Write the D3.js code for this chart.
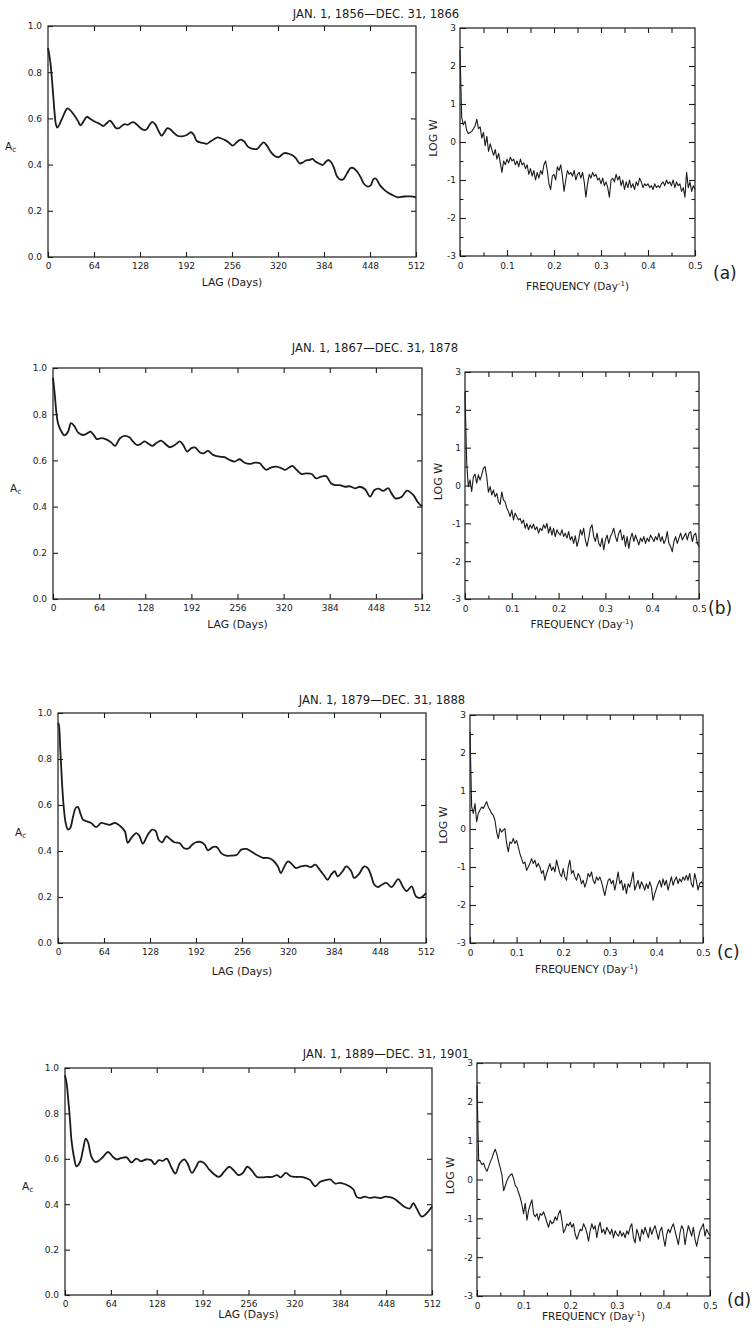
<!DOCTYPE html>
<html>
<head>
<meta charset="utf-8">
<style>
  body { margin: 0; background: #fff; }
  svg { display: block; font-family: "DejaVu Sans", "Liberation Sans", sans-serif; }
</style>
</head>
<body>
<svg width="752" height="1332"></svg>
<script src="https://cdn.jsdelivr.net/npm/d3@7"></script>
<script>
// ---- data ----
const lagTicks = [0, 64, 128, 192, 256, 320, 384, 448, 512];
const acTicks = [0, 0.2, 0.4, 0.6, 0.8, 1.0];
const freqTicks = [0, 0.1, 0.2, 0.3, 0.4, 0.5];
const freqMinor = [0.05, 0.15, 0.25, 0.35, 0.45];
const logTicks = [-3, -2, -1, 0, 1, 2, 3];
const logMinor = [-2.5, -1.5, -0.5, 0.5, 1.5, 2.5];

const periods = [
  "JAN. 1, 1856\u2014DEC. 31, 1866",
  "JAN. 1, 1867\u2014DEC. 31, 1878",
  "JAN. 1, 1879\u2014DEC. 31, 1888",
  "JAN. 1, 1889\u2014DEC. 31, 1901"
];
const panelTags = ["(a)", "(b)", "(c)", "(d)"];

// autocorrelation A_c vs lag (days): [lag, A_c]
const acA = [[0,0.905],[3,0.85],[6.5,0.73],[9,0.63],[11,0.575],[13,0.56],[19,0.595],[24,0.63],[27,0.643],[31,0.635],[35,0.62],[42,0.587],[45,0.57],[49,0.585],[54,0.607],[58,0.6],[63,0.59],[68,0.582],[72,0.576],[77,0.567],[82,0.58],[86,0.59],[90,0.578],[94,0.56],[98,0.557],[103,0.568],[107,0.575],[111,0.572],[115,0.58],[119,0.584],[124,0.572],[128,0.56],[133,0.55],[137,0.552],[141,0.57],[145,0.585],[149,0.575],[154,0.545],[158,0.525],[162,0.54],[166,0.558],[170,0.553],[175,0.538],[180,0.525],[186,0.522],[193,0.528],[199,0.54],[203,0.528],[207,0.502],[213,0.495],[218,0.492],[221,0.49],[226,0.5],[231,0.51],[236,0.518],[241,0.513],[246,0.507],[251,0.497],[257,0.482],[262,0.495],[268,0.508],[273,0.5],[278,0.478],[285,0.468],[291,0.468],[296,0.485],[300,0.496],[305,0.48],[310,0.455],[315,0.438],[321,0.432],[326,0.445],[329,0.45],[335,0.447],[340,0.44],[345,0.427],[350,0.405],[355,0.41],[359,0.418],[364,0.42],[368,0.425],[372,0.413],[377,0.405],[382,0.398],[386,0.41],[390,0.42],[394,0.41],[398,0.385],[402,0.35],[407,0.335],[411,0.337],[416,0.362],[421,0.385],[425,0.385],[430,0.37],[435,0.345],[440,0.315],[445,0.305],[449,0.31],[453,0.338],[456,0.34],[462,0.31],[470,0.285],[478,0.27],[487,0.258],[495,0.262],[505,0.262],[512,0.258]];
const acB = [[0,0.957],[2.3,0.89],[4.6,0.81],[7,0.76],[11.6,0.725],[16,0.708],[21,0.725],[25,0.761],[30,0.747],[35,0.72],[42,0.71],[49,0.72],[52,0.725],[58,0.703],[61,0.692],[67,0.696],[73,0.692],[81,0.677],[86,0.663],[93,0.696],[99.5,0.706],[106,0.7],[111,0.682],[117,0.666],[123,0.674],[127,0.682],[133,0.671],[138,0.663],[143,0.674],[150,0.686],[156,0.671],[162,0.657],[169,0.667],[176,0.682],[181,0.665],[186,0.638],[192,0.653],[197,0.656],[204,0.634],[209,0.631],[215,0.641],[222,0.624],[231,0.616],[238,0.614],[245,0.602],[252,0.595],[259,0.605],[266,0.59],[273,0.585],[280,0.59],[287,0.588],[291,0.573],[296,0.559],[303,0.57],[310,0.573],[317,0.566],[322,0.559],[328,0.57],[332,0.576],[338,0.559],[345,0.541],[352,0.544],[359,0.541],[365,0.522],[372,0.53],[379,0.532],[386,0.5],[391,0.493],[398,0.493],[405,0.486],[412,0.488],[419,0.479],[426,0.486],[433,0.475],[440,0.443],[446,0.472],[452,0.478],[458,0.468],[465,0.48],[470,0.455],[475,0.436],[484,0.443],[491,0.469],[500,0.45],[506,0.42],[512,0.4]];
const acC = [[0,0.949],[1,0.955],[3.2,0.84],[5.6,0.696],[7.9,0.594],[10.7,0.522],[13.9,0.493],[17,0.5],[21,0.55],[24.6,0.587],[27.8,0.591],[31,0.565],[34.8,0.536],[40,0.529],[46,0.522],[53,0.504],[60,0.522],[65,0.519],[72,0.514],[79,0.522],[86,0.51],[93,0.486],[97,0.435],[102,0.457],[109,0.478],[113.5,0.464],[118,0.432],[125,0.471],[131,0.493],[136,0.486],[140,0.449],[145,0.438],[150.6,0.464],[156,0.452],[162,0.438],[169,0.435],[175,0.413],[181,0.41],[187,0.428],[192,0.438],[199,0.439],[204,0.428],[208.5,0.403],[215.5,0.417],[221,0.417],[227,0.391],[234,0.38],[241,0.38],[249,0.384],[255,0.406],[262,0.409],[266,0.403],[276,0.384],[285,0.37],[292,0.37],[299,0.36],[306,0.333],[310,0.304],[315,0.333],[320,0.355],[326,0.341],[331,0.326],[338,0.333],[345,0.336],[352,0.33],[358,0.341],[364,0.319],[371,0.29],[375,0.275],[380,0.297],[385,0.312],[389,0.29],[396,0.312],[401,0.333],[408,0.312],[412,0.283],[419,0.301],[426,0.333],[431,0.326],[436,0.29],[440,0.254],[445,0.243],[450,0.252],[457,0.261],[464,0.243],[473.5,0.278],[479.6,0.246],[485,0.225],[492,0.246],[498,0.203],[503.6,0.196],[512,0.217]];
const acD = [[0,0.968],[2.3,0.931],[4.6,0.858],[7,0.77],[9,0.682],[12.5,0.608],[16,0.567],[21,0.586],[25.4,0.645],[29,0.689],[32,0.674],[37,0.608],[42,0.586],[46,0.589],[53,0.608],[60,0.63],[67,0.608],[72,0.597],[79,0.604],[86,0.606],[92.5,0.584],[99.5,0.601],[106,0.589],[113,0.597],[120,0.594],[125,0.576],[131,0.594],[136.5,0.591],[142,0.601],[148,0.565],[154,0.535],[160,0.579],[166.6,0.597],[171,0.579],[177,0.538],[183,0.565],[187,0.587],[194,0.582],[201,0.553],[208,0.532],[215,0.52],[222,0.543],[229,0.565],[236,0.547],[242,0.528],[247.5,0.535],[254.5,0.565],[261,0.547],[268,0.52],[275,0.518],[282,0.52],[289,0.52],[296,0.528],[301,0.518],[308,0.538],[315,0.523],[321.6,0.52],[328.5,0.52],[335,0.516],[342,0.506],[349,0.479],[356,0.499],[363,0.506],[370,0.509],[377,0.491],[384,0.494],[391,0.488],[398,0.477],[402.5,0.465],[407,0.432],[412,0.427],[418,0.433],[425,0.428],[432,0.431],[440,0.427],[447,0.433],[453,0.431],[460,0.423],[467,0.405],[474,0.388],[481,0.381],[486,0.405],[490.6,0.381],[497.6,0.345],[504.6,0.36],[512,0.39]];

// spectra: log W at equally spaced frequencies 0 .. 0.5 day^-1
const freqStep = 0.5 / 140;
const specA = [2.42,0.65,0.45,0.55,0.3,0.22,0.25,0.28,0.35,0.42,
  0.6,0.35,0.4,0.1,0.25,-0.1,0.15,-0.25,-0.05,-0.2,
  -0.35,-0.2,-0.45,-0.3,-0.55,-0.8,-0.5,-0.6,-0.45,-0.55,
  -0.4,-0.5,-0.45,-0.6,-0.5,-0.65,-0.45,-0.6,-0.55,-0.7,
  -0.6,-0.85,-0.7,-0.9,-0.75,-1.0,-0.8,-0.95,-0.75,-0.85,
  -0.6,-0.5,-0.75,-1.1,-1.25,-0.9,-0.85,-1.0,-0.65,-0.75,
  -0.6,-0.9,-1.3,-1.0,-0.75,-0.85,-0.8,-0.9,-0.75,-1.0,
  -0.85,-0.8,-0.95,-0.8,-1.05,-1.45,-1.1,-0.85,-0.95,-0.8,
  -0.9,-0.85,-1.0,-0.95,-1.1,-0.95,-1.15,-1.05,-1.2,-1.45,
  -1.0,-0.95,-1.05,-0.85,-1.0,-0.9,-1.15,-1.0,-1.25,-1.05,
  -1.2,-1.0,-1.2,-1.1,-1.25,-1.05,-1.15,-0.95,-1.05,-1.2,
  -1.1,-1.15,-1.1,-1.2,-1.15,-1.25,-1.1,-1.2,-1.15,-1.2,
  -1.1,-1.05,-1.15,-1.0,-1.1,-1.05,-1.15,-1.0,-1.2,-1.05,
  -1.15,-1.1,-1.3,-1.2,-1.45,-0.8,-1.2,-1.05,-1.3,-1.15,
  -1.25];
const specB = [2.47,0.6,-0.03,0.15,-0.16,0.23,0.3,0.06,0.28,0.14,
  0.28,0.45,0.5,0.23,-0.18,-0.03,-0.25,-0.12,-0.3,-0.21,
  -0.43,-0.5,-0.17,-0.38,-0.43,-0.6,-0.69,-0.82,-0.65,-0.91,
  -0.73,-0.82,-0.91,-0.87,-1.0,-0.91,-1.13,-1.0,-1.17,-1.04,
  -1.13,-1.02,-1.17,-1.09,-1.26,-1.13,-1.19,-1.04,-1.13,-1.0,
  -1.26,-1.09,-1.31,-1.13,-1.35,-1.17,-1.26,-1.31,-1.17,-1.35,
  -1.26,-1.39,-1.22,-1.44,-1.35,-1.53,-1.33,-1.61,-1.44,-1.17,
  -1.31,-1.13,-1.44,-1.61,-1.39,-1.13,-1.04,-1.35,-1.48,-1.26,
  -1.53,-1.61,-1.39,-1.7,-1.44,-1.31,-1.53,-1.35,-1.26,-1.13,
  -1.35,-1.48,-1.26,-1.17,-1.44,-1.31,-1.61,-1.35,-1.66,-1.39,
  -1.26,-1.48,-1.31,-1.44,-1.57,-1.39,-1.48,-1.35,-1.53,-1.39,
  -1.48,-1.31,-1.39,-1.48,-1.35,-1.44,-1.26,-1.48,-1.35,-1.53,
  -1.44,-1.22,-1.53,-1.61,-1.75,-1.48,-1.35,-1.53,-1.39,-1.26,
  -1.44,-1.35,-1.26,-1.44,-1.26,-1.22,-1.48,-1.31,-1.26,-1.53,
  -1.61];
const specC = [2.56,0.58,0.41,0.67,0.19,0.41,0.5,0.58,0.54,0.63,
  0.72,0.58,0.5,0.41,0.36,0.23,-0.08,-0.25,0.01,-0.08,
  -0.03,0.01,-0.38,-0.6,-0.34,-0.38,-0.25,-0.38,-0.3,-0.47,
  -0.65,-0.78,-0.91,-0.87,-1.09,-1.0,-0.91,-0.78,-0.91,-0.82,
  -1.0,-0.91,-1.0,-1.17,-1.09,-1.35,-1.17,-1.04,-0.91,-1.09,
  -1.0,-1.13,-0.82,-1.0,-1.17,-1.26,-1.04,-1.26,-1.35,-1.0,
  -0.82,-1.17,-1.09,-1.26,-1.35,-1.17,-1.26,-1.44,-1.35,-1.53,
  -1.39,-1.17,-1.26,-1.13,-1.35,-1.44,-1.26,-1.35,-1.26,-1.39,
  -1.57,-1.75,-1.53,-1.35,-1.31,-1.44,-1.35,-1.61,-1.39,-1.13,
  -1.44,-1.35,-1.61,-1.44,-1.7,-1.44,-1.53,-1.35,-1.13,-1.61,
  -1.48,-1.35,-1.57,-1.39,-1.48,-1.61,-1.44,-1.57,-1.39,-1.53,
  -1.88,-1.7,-1.57,-1.44,-1.35,-1.53,-1.31,-1.48,-1.35,-1.61,
  -1.44,-1.26,-1.48,-1.35,-1.26,-1.44,-1.31,-1.39,-1.26,-1.35,
  -1.22,-1.35,-1.17,-1.44,-1.53,-1.17,-1.35,-1.61,-1.44,-1.39,
  -1.45];
const specD = [2.43,0.51,0.46,0.38,0.42,0.29,0.21,0.33,0.46,0.55,
  0.69,0.78,0.64,0.46,0.29,0.11,-0.29,-0.16,-0.03,0.06,
  0.11,0.15,0.02,-0.16,-0.21,-0.34,-0.47,-0.65,-0.88,-0.61,
  -1.05,-0.79,-0.65,-0.52,-0.88,-0.96,-0.88,-1.05,-0.88,-0.92,
  -0.83,-0.96,-1.1,-1.23,-1.05,-1.14,-1.1,-0.96,-1.05,-0.88,
  -0.79,-1.05,-1.37,-1.28,-1.14,-1.19,-1.1,-1.23,-1.14,-1.41,
  -1.54,-1.41,-1.28,-1.32,-1.14,-1.23,-1.37,-1.59,-1.32,-1.14,
  -1.28,-1.19,-1.5,-1.23,-1.1,-1.37,-1.28,-1.41,-1.23,-1.32,
  -1.41,-1.28,-1.5,-1.32,-1.41,-1.46,-1.32,-1.46,-1.37,-1.5,
  -1.32,-1.41,-1.23,-1.14,-1.5,-1.63,-1.28,-1.41,-1.59,-1.28,
  -1.41,-1.23,-1.37,-1.5,-1.23,-1.41,-1.28,-1.19,-1.37,-1.54,
  -1.32,-1.23,-1.5,-1.72,-1.41,-1.28,-1.37,-1.23,-1.14,-1.32,
  -1.5,-1.68,-1.37,-1.19,-1.28,-1.68,-1.41,-1.19,-1.32,-1.46,
  -1.23,-1.54,-1.72,-1.5,-1.32,-1.23,-1.14,-1.46,-1.28,-1.37,
  -1.45];

const acSeries = [acA, acB, acC, acD];
const specSeries = [specA, specB, specC, specD];

// ---- page layout (the scan drifts a little to the right row by row) ----
const layout = [
  { left: {x0: 48, x1: 416, y0: 26, y1: 257},   right: {x0: 460, x1: 695, y0: 28, y1: 256},
    titleX: 376, titleY: 18,   lagY: 286,  freqY: 290,  tagX: 713, tagY: 279 },
  { left: {x0: 53, x1: 422, y0: 368, y1: 599},  right: {x0: 465, x1: 699, y0: 372, y1: 599},
    titleX: 375, titleY: 352,  lagY: 628,  freqY: 628,  tagX: 708, tagY: 614 },
  { left: {x0: 58, x1: 426, y0: 713, y1: 943},  right: {x0: 470, x1: 703, y0: 715, y1: 943},
    titleX: 382, titleY: 704,  lagY: 975,  freqY: 973,  tagX: 717, tagY: 958 },
  { left: {x0: 65, x1: 432, y0: 1068, y1: 1295}, right: {x0: 477, x1: 710, y0: 1063, y1: 1296},
    titleX: 386, titleY: 1058, lagY: 1318, freqY: 1320, tagX: 727, tagY: 1306 }
];

const ink = "#1b1b1b";
const svg = d3.select("svg");

function styleAxis(sel) {
  sel.attr("font-family", "DejaVu Sans").attr("font-size", 9);
  sel.select(".domain").remove();
  sel.selectAll(".tick line").attr("stroke", ink).attr("stroke-width", 1.1);
  sel.selectAll(".tick text").attr("fill", ink);
}

function drawFrame(g, b) {
  g.append("rect")
    .attr("x", b.x0).attr("y", b.y0)
    .attr("width", b.x1 - b.x0).attr("height", b.y1 - b.y0)
    .attr("fill", "none")
    .attr("stroke", ink)
    .attr("stroke-width", 1.2);
}

layout.forEach((L, i) => {
  const g = svg.append("g");

  // ---------- left: autocorrelation ----------
  const b = L.left;
  const x = d3.scaleLinear().domain([0, 512]).range([b.x0, b.x1]);
  const y = d3.scaleLinear().domain([0, 1]).range([b.y1, b.y0]);

  g.append("g").attr("transform", `translate(0,${b.y1})`)
    .call(d3.axisBottom(x).tickValues(lagTicks).tickSize(-5).tickPadding(6).tickFormat(d3.format("d")))
    .call(styleAxis);
  g.append("g").attr("transform", `translate(0,${b.y0})`)
    .call(d3.axisTop(x).tickValues(lagTicks.slice(1, -1)).tickSize(-5).tickFormat(""))
    .call(styleAxis);
  g.append("g").attr("transform", `translate(${b.x0},0)`)
    .call(d3.axisLeft(y).tickValues(acTicks).tickSize(-5).tickPadding(6).tickFormat(d3.format(".1f")))
    .call(styleAxis);
  g.append("g").attr("transform", `translate(${b.x1},0)`)
    .call(d3.axisRight(y).tickValues(acTicks.slice(1, -1)).tickSize(-5).tickFormat(""))
    .call(styleAxis);
  drawFrame(g, b);

  const acLine = d3.line()
    .x(d => x(d[0]))
    .y(d => y(d[1]))
    .curve(d3.curveCatmullRom.alpha(0.5));
  g.append("path")
    .datum(acSeries[i])
    .attr("d", acLine)
    .attr("fill", "none")
    .attr("stroke", ink)
    .attr("stroke-width", 1.8)
    .attr("stroke-linejoin", "round");

  const acLabel = g.append("text")
    .attr("x", b.x0 - 43)
    .attr("y", (b.y0 + b.y1) / 2 + 8)
    .attr("fill", ink)
    .attr("font-size", 10.5);
  acLabel.append("tspan").text("A");
  acLabel.append("tspan").attr("font-size", 7.5).attr("dy", 2).text("c");

  g.append("text")
    .attr("x", (b.x0 + b.x1) / 2)
    .attr("y", L.lagY)
    .attr("text-anchor", "middle")
    .attr("font-size", 10.8)
    .attr("fill", ink)
    .text("LAG (Days)");

  // ---------- right: power spectrum ----------
  const r = L.right;
  const fx = d3.scaleLinear().domain([0, 0.5]).range([r.x0, r.x1]);
  const fy = d3.scaleLinear().domain([-3, 3]).range([r.y1, r.y0]);

  g.append("g").attr("transform", `translate(0,${r.y1})`)
    .call(d3.axisBottom(fx).tickValues(freqTicks).tickSize(-6).tickPadding(7)
      .tickFormat(d => d === 0 ? "0" : d3.format(".1f")(d)))
    .call(styleAxis);
  g.append("g").attr("transform", `translate(0,${r.y1})`)
    .call(d3.axisBottom(fx).tickValues(freqMinor).tickSize(-3.5).tickFormat(""))
    .call(styleAxis);
  g.append("g").attr("transform", `translate(0,${r.y0})`)
    .call(d3.axisTop(fx).tickValues(freqTicks.slice(1, -1).concat(freqMinor)).tickSize(-5).tickFormat(""))
    .call(styleAxis);
  g.append("g").attr("transform", `translate(${r.x0},0)`)
    .call(d3.axisLeft(fy).tickValues(logTicks).tickSize(-6).tickPadding(4).tickFormat(d => String(d)))
    .call(styleAxis);
  g.append("g").attr("transform", `translate(${r.x0},0)`)
    .call(d3.axisLeft(fy).tickValues(logMinor).tickSize(-3.5).tickFormat(""))
    .call(styleAxis);
  g.append("g").attr("transform", `translate(${r.x1},0)`)
    .call(d3.axisRight(fy).tickValues(logTicks.slice(1, -1)).tickSize(-6).tickFormat(""))
    .call(styleAxis);
  g.append("g").attr("transform", `translate(${r.x1},0)`)
    .call(d3.axisRight(fy).tickValues(logMinor).tickSize(-3.5).tickFormat(""))
    .call(styleAxis);
  drawFrame(g, r);

  const specLine = d3.line()
    .x((d, k) => fx(k * freqStep))
    .y(d => fy(d));
  g.append("path")
    .datum(specSeries[i])
    .attr("d", specLine)
    .attr("fill", "none")
    .attr("stroke", ink)
    .attr("stroke-width", 1.1)
    .attr("stroke-linejoin", "round");

  g.append("text")
    .attr("transform", `translate(${r.x0 - 27},${(r.y0 + r.y1) / 2 - 4}) rotate(-90)`)
    .attr("text-anchor", "middle")
    .attr("dy", "0.35em")
    .attr("font-size", 11)
    .attr("fill", ink)
    .text("LOG W");

  const fLabel = g.append("text")
    .attr("x", (r.x0 + r.x1) / 2)
    .attr("y", L.freqY)
    .attr("text-anchor", "middle")
    .attr("font-size", 10.5)
    .attr("fill", ink);
  fLabel.append("tspan").text("FREQUENCY (Day");
  fLabel.append("tspan").attr("font-size", 7).attr("dy", -4).text("-1");
  fLabel.append("tspan").attr("dy", 4).text(")");

  // ---------- title and panel letter ----------
  g.append("text")
    .attr("x", L.titleX)
    .attr("y", L.titleY)
    .attr("text-anchor", "middle")
    .attr("font-size", 11.6)
    .attr("fill", ink)
    .text(periods[i]);

  g.append("text")
    .attr("x", L.tagX)
    .attr("y", L.tagY)
    .attr("font-size", 17)
    .attr("fill", ink)
    .text(panelTags[i]);
});
</script>
</body>
</html>
